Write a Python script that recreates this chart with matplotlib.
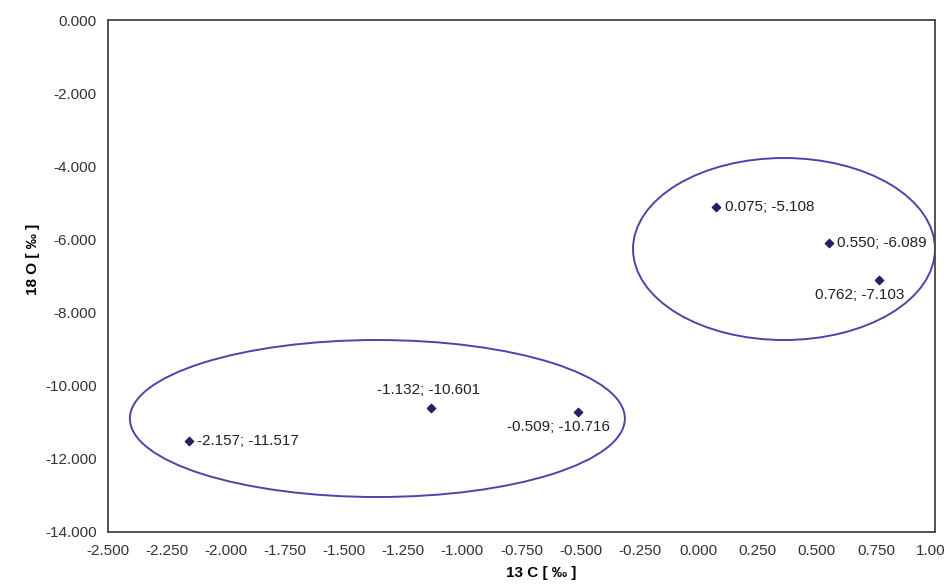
import matplotlib
matplotlib.use("Agg")
import matplotlib.pyplot as plt
from matplotlib.patches import Ellipse
from matplotlib.ticker import FormatStrFormatter

plt.rcParams['font.family'] = ['Liberation Sans', 'DejaVu Sans']

# data (13C, 18O)
c13 = [0.075, 0.550, 0.762, -1.132, -0.509, -2.157]
o18 = [-5.108, -6.089, -7.103, -10.601, -10.716, -11.517]
labels = ["0.075; -5.108", "0.550; -6.089", "0.762; -7.103",
          "-1.132; -10.601", "-0.509; -10.716", "-2.157; -11.517"]
# where each label sits relative to its point
label_pos = ["right", "right", "below", "above", "below", "right"]

# group ellipses: centre x, centre y, width, height
ell_cx = [0.361, -1.360]
ell_cy = [-6.262, -10.897]
ell_w = [1.278, 2.095]
ell_h = [4.977, 4.293]

xticks = [-2.5 + 0.25 * i for i in range(15)]
yticks = [0, -2, -4, -6, -8, -10, -12, -14]

fig = plt.figure(figsize=(9.45, 5.85), dpi=100)
ax = fig.add_axes([0.1143, 0.0906, 0.8751, 0.8752])

ax.scatter(c13, o18, marker='D', s=18, color='#2b1b66', zorder=3)

for x, y, t, p in zip(c13, o18, labels, label_pos):
    if p == "right":
        ax.annotate(t, (x, y), xytext=(6, 0), textcoords='offset points',
                    ha='left', va='center', fontsize=11, color='#222222')
    elif p == "below":
        ax.annotate(t, (x, y), xytext=(-14, -6), textcoords='offset points',
                    ha='center', va='top', fontsize=11, color='#222222')
    else:
        ax.annotate(t, (x, y), xytext=(-2, 8), textcoords='offset points',
                    ha='center', va='bottom', fontsize=11, color='#222222')

for cx, cy, w, h in zip(ell_cx, ell_cy, ell_w, ell_h):
    ax.add_patch(Ellipse((cx, cy), w, h, fill=False, edgecolor='#5540a8', lw=1.4))

ax.set_xlim(-2.5, 1.0)
ax.set_ylim(-14, 0)
ax.set_xticks(xticks)
ax.set_yticks(yticks)
ax.xaxis.set_major_formatter(FormatStrFormatter('%.3f'))
ax.yaxis.set_major_formatter(FormatStrFormatter('%.3f'))
ax.tick_params(length=0, labelsize=11, colors='#333333')
ax.tick_params(axis='x', pad=9)
ax.tick_params(axis='y', pad=8)

for s in ax.spines.values():
    s.set_color('#444444')
    s.set_linewidth(1.3)

ax.set_xlabel('13 C [ ‰ ]', fontsize=11, fontweight='bold', va='center')
ax.set_ylabel('18 O [ ‰ ]', fontsize=11, fontweight='bold', va='center')
ax.xaxis.set_label_coords(0.5236, -0.080)
ax.yaxis.set_label_coords(-0.0907, 0.533)

fig.savefig('out.png', dpi=100, facecolor='white')
